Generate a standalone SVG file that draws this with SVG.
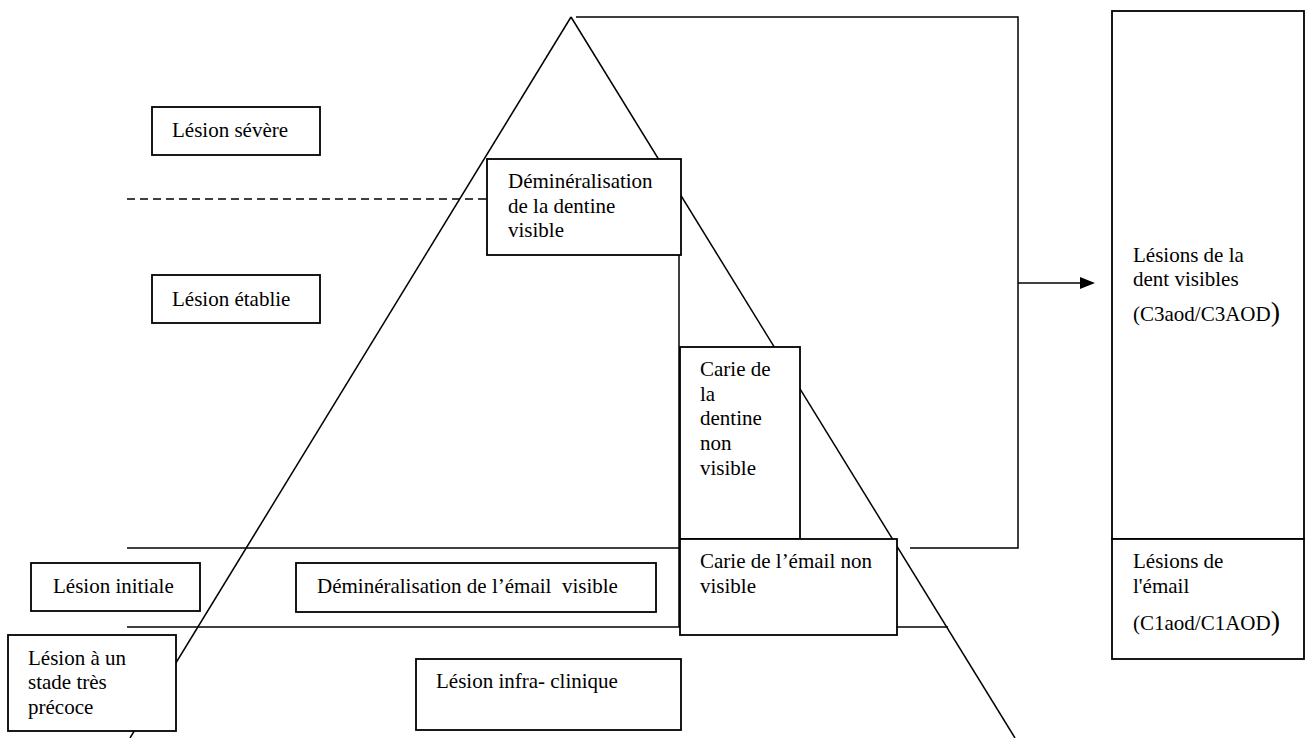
<svg xmlns="http://www.w3.org/2000/svg" width="1308" height="738" viewBox="0 0 1308 738">
  <style>
    .ln { stroke: #000; stroke-width: 1.5; fill: none; }
    .box { stroke: #000; stroke-width: 1.8; fill: #fff; }
    .t { font-family: "Liberation Serif", "Times New Roman", serif; font-size: 21px; fill: #000; }
    .big { font-size: 28px; }
  </style>
  <rect width="1308" height="738" fill="#fff"/>
  <g id="connectors">
    <line class="ln" x1="571" y1="17" x2="130" y2="738"/>
    <line class="ln" x1="571" y1="17" x2="1015" y2="738"/>
    <polyline class="ln" points="576,17 1018,17 1018,548 910,548"/>
    <line class="ln" x1="127" y1="199" x2="487" y2="199" stroke-dasharray="8,5"/>
    <line class="ln" x1="679" y1="255" x2="679" y2="627"/>
    <line class="ln" x1="127" y1="548" x2="679" y2="548"/>
    <line class="ln" x1="127" y1="627" x2="948" y2="627"/>
    <line class="ln" x1="1018" y1="283" x2="1081" y2="283"/>
    <polygon points="1080,277 1095,283 1080,289" fill="#000"/>
  </g>
  <g id="lesion-severe">
    <rect class="box" x="152" y="107" width="168" height="48"/>
    <text class="t" x="172" y="137">Lésion sévère</text>
  </g>
  <g id="demin-dentine">
    <rect class="box" x="487" y="159" width="194" height="96"/>
    <text class="t" x="508" y="188">Déminéralisation</text>
    <text class="t" x="508" y="213">de la dentine</text>
    <text class="t" x="508" y="237">visible</text>
  </g>
  <g id="lesion-etablie">
    <rect class="box" x="152" y="275" width="168" height="48"/>
    <text class="t" x="172" y="306">Lésion établie</text>
  </g>
  <g id="carie-dentine">
    <rect class="box" x="680" y="347" width="120" height="192"/>
    <text class="t" x="700" y="376">Carie de</text>
    <text class="t" x="700" y="401">la</text>
    <text class="t" x="700" y="425">dentine</text>
    <text class="t" x="700" y="450">non</text>
    <text class="t" x="700" y="475">visible</text>
  </g>
  <g id="lesions-dent">
    <rect class="box" x="1112" y="11" width="192" height="528"/>
    <text class="t" x="1133" y="262">Lésions de la</text>
    <text class="t" x="1133" y="286">dent visibles</text>
    <text class="t" x="1133" y="321">(C3aod/C3AOD<tspan class="big">)</tspan></text>
  </g>
  <g id="carie-email">
    <rect class="box" x="680" y="539" width="217" height="96"/>
    <text class="t" x="700" y="568">Carie de l’émail non</text>
    <text class="t" x="700" y="593">visible</text>
  </g>
  <g id="lesions-email">
    <rect class="box" x="1112" y="539" width="192" height="120"/>
    <text class="t" x="1133" y="568">Lésions de</text>
    <text class="t" x="1133" y="593">l'émail</text>
    <text class="t" x="1133" y="630">(C1aod/C1AOD<tspan class="big">)</tspan></text>
  </g>
  <g id="lesion-initiale">
    <rect class="box" x="31" y="563" width="169" height="48"/>
    <text class="t" x="53" y="593">Lésion initiale</text>
  </g>
  <g id="demin-email">
    <rect class="box" x="296" y="563" width="360" height="49"/>
    <text class="t" x="317" y="593" xml:space="preserve">Déminéralisation de l’émail  visible</text>
  </g>
  <g id="lesion-precoce">
    <rect class="box" x="8" y="635" width="168" height="96"/>
    <text class="t" x="28" y="665">Lésion à un</text>
    <text class="t" x="28" y="689">stade très</text>
    <text class="t" x="28" y="714">précoce</text>
  </g>
  <g id="lesion-infra">
    <rect class="box" x="416" y="659" width="265" height="71"/>
    <text class="t" x="436" y="688">Lésion infra- clinique</text>
  </g>
</svg>
